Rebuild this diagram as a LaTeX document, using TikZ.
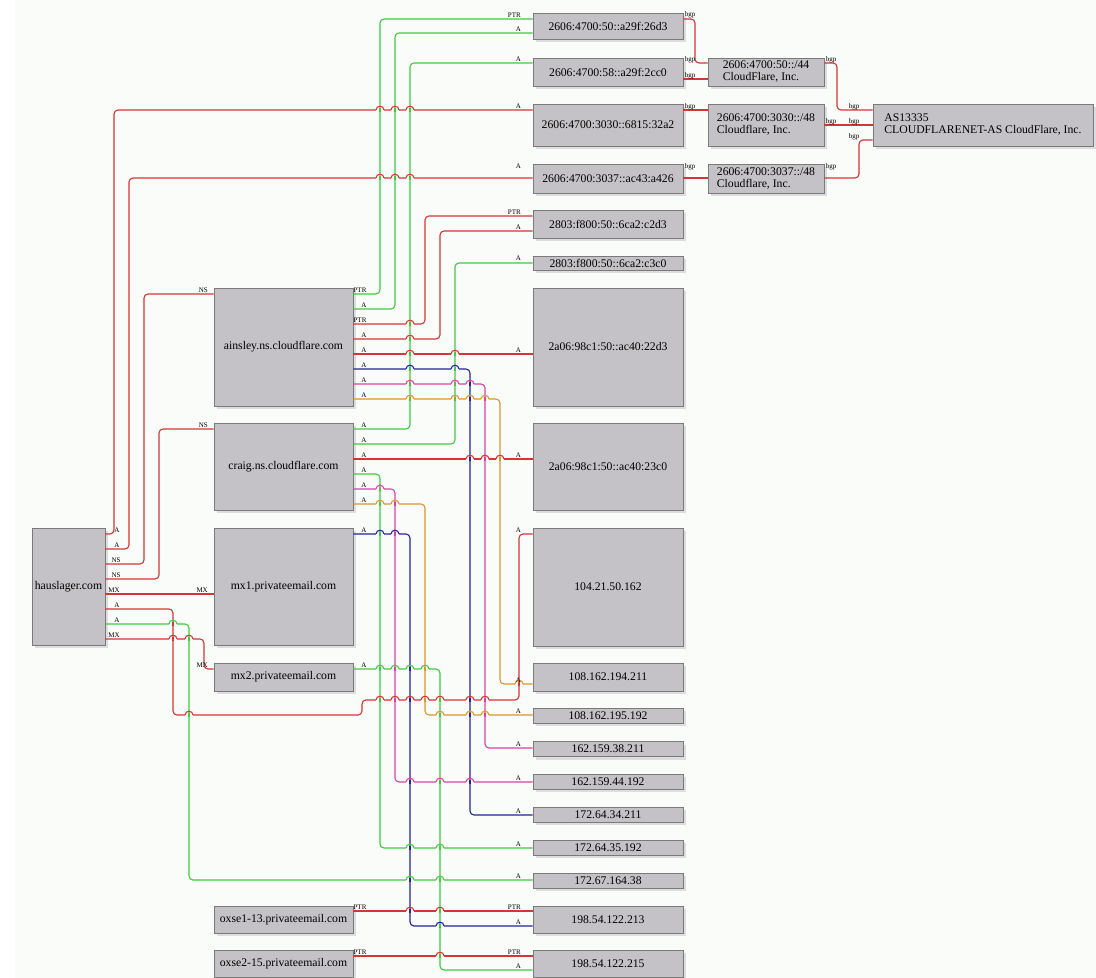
\documentclass[tikz,border=0pt]{standalone}
\usepackage{fontspec}
\setmainfont{Liberation Serif}
\usetikzlibrary{shadows}
\definecolor{bgc}{HTML}{FAFCFA}
\definecolor{boxfill}{HTML}{C4C2C6}
\definecolor{boxline}{HTML}{7A7A7A}
\definecolor{shad}{HTML}{DDDDDD}
\definecolor{cred}{HTML}{D63535}
\definecolor{cgreen}{HTML}{3ECC3E}
\definecolor{cblue}{HTML}{24249A}
\definecolor{cmag}{HTML}{DC40A8}
\definecolor{corange}{HTML}{DB962E}
\tikzset{
 box/.style={draw=boxline, fill=boxfill, line width=0.8bp, inner sep=0pt, align=center,
   font=\fontsize{11.7bp}{12bp}\selectfont,
   general shadow={fill=shad, shadow xshift=3bp, shadow yshift=-3bp}},
 lbox/.style={box, align=left},
 edge/.style={line width=1.1bp, rounded corners=4bp},
 lab/.style={font=\fontsize{7bp}{8bp}\selectfont, inner sep=0pt, anchor=base},
 tlab/.style={lab, anchor=base east},
}
\newcommand\lhop[4]{%
  \fill[bgc] ({#1-4},{#2-1.3}) rectangle ({#1+4},{#2+1.3});
  \draw[#4, line width=1.1bp] (#1,{#2-2}) -- (#1,{#2+2});
  \draw[#3, line width=1.1bp] ({#1-4},#2) .. controls ({#1-4},{#2-5}) and ({#1+4},{#2-5}) .. ({#1+4},#2);
}
\begin{document}
\begin{tikzpicture}[x=1bp,y=-1bp]
\useasboundingbox (0,0) rectangle (1096,978);
\fill[white] (0,0) rectangle (1096,978);
\fill[bgc] (15,0) rectangle (1096,978);
% left column
\node[box, minimum width=73bp, minimum height=117bp] (haus) at (68.5,586.5) {hauslager.com};
\node[box, minimum width=139bp, minimum height=118bp] (ains) at (283.5,347) {ainsley.ns.cloudflare.com};
\node[box, minimum width=139bp, minimum height=87bp] (craig) at (283.5,466.5) {craig.ns.cloudflare.com};
\node[box, minimum width=139bp, minimum height=117bp] (mxa) at (283.5,586.5) {mx1.privateemail.com};
\node[box, minimum width=139bp, minimum height=28bp] (mxb) at (283.5,677) {mx2.privateemail.com};
\node[box, minimum width=139bp, minimum height=27bp] (oxa) at (283.5,919.5) {oxse1-13.privateemail.com};
\node[box, minimum width=139bp, minimum height=27bp] (oxb) at (283.5,963.5) {oxse2-15.privateemail.com};
% right column
\node[box, minimum width=150bp, minimum height=26bp] (r26d3) at (608,26) {2606:4700:50::a29f:26d3};
\node[box, minimum width=150bp, minimum height=28bp] (r2cc0) at (608,72) {2606:4700:58::a29f:2cc0};
\node[box, minimum width=150bp, minimum height=42bp] (r32a2) at (608,125) {2606:4700:3030::6815:32a2};
\node[box, minimum width=150bp, minimum height=29bp] (ra426) at (608,178.5) {2606:4700:3037::ac43:a426};
\node[box, minimum width=150bp, minimum height=28bp] (rc2d3) at (608,224) {2803:f800:50::6ca2:c2d3};
\node[box, minimum width=150bp, minimum height=14bp] (rc3c0) at (608,263) {2803:f800:50::6ca2:c3c0};
\node[box, minimum width=150bp, minimum height=118bp] (r22d3) at (608,347) {2a06:98c1:50::ac40:22d3};
\node[box, minimum width=150bp, minimum height=87bp] (r23c0) at (608,466.5) {2a06:98c1:50::ac40:23c0};
\node[box, minimum width=150bp, minimum height=118bp] (r104) at (608,587) {104.21.50.162};
\node[box, minimum width=150bp, minimum height=28bp] (r194) at (608,677) {108.162.194.211};
\node[box, minimum width=150bp, minimum height=15bp] (r195) at (608,715.5) {108.162.195.192};
\node[box, minimum width=150bp, minimum height=15bp] (r38) at (608,749) {162.159.38.211};
\node[box, minimum width=150bp, minimum height=15bp] (r44) at (608,781.5) {162.159.44.192};
\node[box, minimum width=150bp, minimum height=15bp] (r34) at (608,814.5) {172.64.34.211};
\node[box, minimum width=150bp, minimum height=15bp] (r35) at (608,847.5) {172.64.35.192};
\node[box, minimum width=150bp, minimum height=15bp] (r164) at (608,880.5) {172.67.164.38};
\node[box, minimum width=150bp, minimum height=27bp] (r213) at (608,919.5) {198.54.122.213};
\node[box, minimum width=150bp, minimum height=27bp] (r215) at (608,963.5) {198.54.122.215};
% prefixes and AS
\node[lbox, minimum width=116bp, minimum height=28bp] (p44) at (766,72) {2606:4700:50::/44\\CloudFlare, Inc.};
\node[lbox, minimum width=116bp, minimum height=42bp] (p3030) at (766,125) {2606:4700:3030::/48\\Cloudflare, Inc.};
\node[lbox, minimum width=116bp, minimum height=29bp] (p3037) at (766,178.5) {2606:4700:3037::/48\\Cloudflare, Inc.};
\node[lbox, minimum width=220bp, minimum height=42bp] (as) at (983,125) {AS13335\\CLOUDFLARENET-AS CloudFlare, Inc.};
% edges from hauslager.com
\draw[edge, cred] (haus.east |- 0,534) -- (114,534) -- (114,110) -- (r32a2.west |- 0,110);
\draw[edge, cred] (haus.east |- 0,549) -- (129,549) -- (129,178) -- (ra426.west |- 0,178);
\draw[edge, cred] (haus.east |- 0,564) -- (144,564) -- (144,294) -- (ains.west |- 0,294);
\draw[edge, cred] (haus.east |- 0,579) -- (159,579) -- (159,429) -- (craig.west |- 0,429);
\draw[edge, cred] (haus.east |- 0,594) -- (mxa.west |- 0,594);
\draw[edge, cred] (haus.east |- 0,609) -- (173,609) -- (173,715) -- (362,715) -- (362,700) -- (519,700) -- (519,534) -- (r104.west |- 0,534);
\draw[edge, cgreen] (haus.east |- 0,624) -- (189,624) -- (189,880) -- (r164.west |- 0,880);
\draw[edge, cred] (haus.east |- 0,639) -- (204,639) -- (204,669) -- (mxb.west |- 0,669);
% edges from ainsley
\draw[edge, cgreen] (ains.east |- 0,294) -- (380,294) -- (380,19) -- (r26d3.west |- 0,19);
\draw[edge, cgreen] (ains.east |- 0,309) -- (395,309) -- (395,33) -- (r26d3.west |- 0,33);
\draw[edge, cred] (ains.east |- 0,324) -- (425,324) -- (425,216) -- (rc2d3.west |- 0,216);
\draw[edge, cred] (ains.east |- 0,339) -- (440,339) -- (440,231) -- (rc2d3.west |- 0,231);
\draw[edge, cred] (ains.east |- 0,354) -- (r22d3.west |- 0,354);
\draw[edge, cblue] (ains.east |- 0,369) -- (470,369) -- (470,815) -- (r34.west |- 0,815);
\draw[edge, cmag] (ains.east |- 0,384) -- (485,384) -- (485,748) -- (r38.west |- 0,748);
\draw[edge, corange] (ains.east |- 0,399) -- (500,399) -- (500,684) -- (r194.west |- 0,684);
% edges from craig
\draw[edge, cgreen] (craig.east |- 0,429) -- (410,429) -- (410,63) -- (r2cc0.west |- 0,63);
\draw[edge, cgreen] (craig.east |- 0,444) -- (455,444) -- (455,263) -- (rc3c0.west |- 0,263);
\draw[edge, cred] (craig.east |- 0,459) -- (r23c0.west |- 0,459);
\draw[edge, cgreen] (craig.east |- 0,474) -- (380,474) -- (380,848) -- (r35.west |- 0,848);
\draw[edge, cmag] (craig.east |- 0,489) -- (395,489) -- (395,782) -- (r44.west |- 0,782);
\draw[edge, corange] (craig.east |- 0,504) -- (425,504) -- (425,715) -- (r195.west |- 0,715);
% mx and oxse
\draw[edge, cblue] (mxa.east |- 0,534) -- (410,534) -- (410,926) -- (r213.west |- 0,926);
\draw[edge, cgreen] (mxb.east |- 0,669) -- (440,669) -- (440,970) -- (r215.west |- 0,970);
\draw[edge, cred] (oxa.east |- 0,911) -- (r213.west |- 0,911);
\draw[edge, cred] (oxb.east |- 0,956) -- (r215.west |- 0,956);
% bgp
\draw[edge, cred] (r26d3.east |- 0,19) -- (695,19) -- (695,63) -- (p44.west |- 0,63);
\draw[edge, cred] (r2cc0.east |- 0,79) -- (p44.west |- 0,79);
\draw[edge, cred] (r32a2.east |- 0,110) -- (p3030.west |- 0,110);
\draw[edge, cred] (ra426.east |- 0,178) -- (p3037.west |- 0,178);
\draw[edge, cred] (p44.east |- 0,63) -- (837,63) -- (837,110) -- (as.west |- 0,110);
\draw[edge, cred] (p3030.east |- 0,125) -- (as.west |- 0,125);
\draw[edge, cred] (p3037.east |- 0,178) -- (859,178) -- (859,140) -- (as.west |- 0,140);
% hops
\lhop{380}{110}{cred}{cgreen}\lhop{395}{110}{cred}{cgreen}\lhop{410}{110}{cred}{cgreen}
\lhop{380}{178}{cred}{cgreen}\lhop{395}{178}{cred}{cgreen}\lhop{410}{178}{cred}{cgreen}
\lhop{189}{715}{cred}{cgreen}
\lhop{380}{700}{cred}{cgreen}\lhop{395}{700}{cred}{cmag}\lhop{410}{700}{cred}{cblue}\lhop{425}{700}{cred}{corange}\lhop{440}{700}{cred}{cgreen}\lhop{470}{700}{cred}{cblue}\lhop{485}{700}{cred}{cmag}
\lhop{173}{624}{cgreen}{cred}
\lhop{410}{880}{cgreen}{cblue}\lhop{440}{880}{cgreen}{cgreen}
\lhop{173}{639}{cred}{cred}\lhop{189}{639}{cred}{cgreen}
\lhop{410}{324}{cred}{cgreen}
\lhop{410}{339}{cred}{cgreen}
\lhop{410}{354}{cred}{cgreen}\lhop{455}{354}{cred}{cgreen}
\lhop{410}{369}{cblue}{cgreen}\lhop{455}{369}{cblue}{cgreen}
\lhop{410}{384}{cmag}{cgreen}\lhop{455}{384}{cmag}{cgreen}\lhop{470}{384}{cmag}{cblue}
\lhop{410}{399}{corange}{cgreen}\lhop{455}{399}{corange}{cgreen}\lhop{470}{399}{corange}{cblue}\lhop{485}{399}{corange}{cmag}
\lhop{470}{459}{cred}{cblue}\lhop{485}{459}{cred}{cmag}\lhop{500}{459}{cred}{corange}
\lhop{380}{489}{cmag}{cgreen}
\lhop{380}{504}{corange}{cgreen}\lhop{395}{504}{corange}{cmag}
\lhop{410}{848}{cgreen}{cblue}\lhop{440}{848}{cgreen}{cgreen}
\lhop{410}{782}{cmag}{cblue}\lhop{440}{782}{cmag}{cgreen}\lhop{470}{782}{cmag}{cblue}
\lhop{440}{715}{corange}{cgreen}\lhop{470}{715}{corange}{cblue}\lhop{485}{715}{corange}{cmag}
\lhop{380}{534}{cblue}{cgreen}\lhop{395}{534}{cblue}{cmag}
\lhop{440}{926}{cblue}{cgreen}
\lhop{380}{669}{cgreen}{cgreen}\lhop{395}{669}{cgreen}{cmag}\lhop{410}{669}{cgreen}{cblue}\lhop{425}{669}{cgreen}{corange}
\lhop{519}{684}{corange}{cred}
\lhop{410}{911}{cred}{cblue}\lhop{440}{911}{cred}{cgreen}
\lhop{440}{956}{cred}{cgreen}
% source labels
\node[lab] (s1) at (117,532) {A};
\node[lab] (s2) at (117,547) {A};
\node[lab] (s3) at (116,562) {NS};
\node[lab] (s4) at (116,577) {NS};
\node[lab] (s5) at (114,592) {MX};
\node[lab] (s6) at (117,607) {A};
\node[lab] (s7) at (117,622) {A};
\node[lab] (s8) at (114,637) {MX};
\node[lab] (s9) at (360,292) {PTR};
\node[lab] (s10) at (364,307) {A};
\node[lab] (s11) at (360,322) {PTR};
\node[lab] (s12) at (364,337) {A};
\node[lab] (s13) at (364,352) {A};
\node[lab] (s14) at (364,367) {A};
\node[lab] (s15) at (364,382) {A};
\node[lab] (s16) at (364,397) {A};
\node[lab] (s17) at (364,427) {A};
\node[lab] (s18) at (364,442) {A};
\node[lab] (s19) at (364,457) {A};
\node[lab] (s20) at (364,472) {A};
\node[lab] (s21) at (364,487) {A};
\node[lab] (s22) at (364,502) {A};
\node[lab] (s23) at (364,532) {A};
\node[lab] (s24) at (364,667) {A};
\node[lab] (s25) at (360,909) {PTR};
\node[lab] (s26) at (360,954) {PTR};
\node[lab] (s27) at (690,16) {bgp};
\node[lab] (s28) at (690,61) {bgp};
\node[lab] (s29) at (690,77.5) {bgp};
\node[lab] (s30) at (690,108) {bgp};
\node[lab] (s31) at (690,168) {bgp};
\node[lab] (s32) at (831,61) {bgp};
\node[lab] (s33) at (831,123) {bgp};
\node[lab] (s34) at (831,168) {bgp};
\node[lab] (s35) at (854,108) {bgp};
\node[lab] (s36) at (854,123) {bgp};
\node[lab] (s37) at (854,138) {bgp};
% target labels
\node[tlab] (t1) at (208,292) {NS};
\node[tlab] (t2) at (208,427) {NS};
\node[tlab] (t3) at (208,592) {MX};
\node[tlab] (t4) at (208,667) {MX};
\node[tlab] (t5) at (521,17) {PTR};
\node[tlab] (t6) at (521,31) {A};
\node[tlab] (t7) at (521,61) {A};
\node[tlab] (t8) at (521,108) {A};
\node[tlab] (t9) at (521,168) {A};
\node[tlab] (t10) at (521,214) {PTR};
\node[tlab] (t11) at (521,229) {A};
\node[tlab] (t12) at (521,260) {A};
\node[tlab] (t13) at (521,352) {A};
\node[tlab] (t14) at (521,457) {A};
\node[tlab] (t15) at (521,532) {A};
\node[tlab] (t16) at (521,682) {A};
\node[tlab] (t17) at (521,713) {A};
\node[tlab] (t18) at (521,746) {A};
\node[tlab] (t19) at (521,780) {A};
\node[tlab] (t20) at (521,813) {A};
\node[tlab] (t21) at (521,846) {A};
\node[tlab] (t22) at (521,878) {A};
\node[tlab] (t23) at (521,909) {PTR};
\node[tlab] (t24) at (521,924) {A};
\node[tlab] (t25) at (521,954) {PTR};
\node[tlab] (t26) at (521,968) {A};
\end{tikzpicture}
\end{document}
